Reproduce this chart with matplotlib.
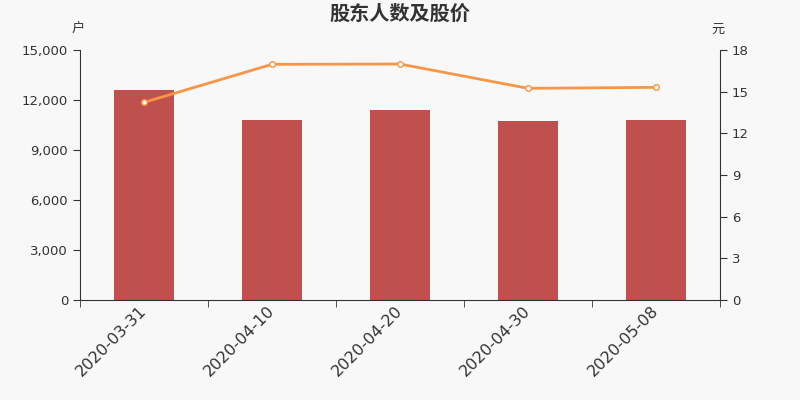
import numpy as np
import matplotlib.pyplot as plt
from matplotlib.ticker import FuncFormatter, FixedLocator

plt.rcParams['font.family'] = ['DejaVu Sans', 'Noto Sans CJK SC']

fechas = ['2020-03-31', '2020-04-10', '2020-04-20', '2020-04-30', '2020-05-08']
accionistas = [12600, 10800, 11400, 10720, 10800]
precio = [14.23, 16.97, 16.99, 15.24, 15.31]

color_barra = '#c0504d'
color_linea = '#f79646'
color_texto = '#333333'
fondo = '#f8f8f8'

fig = plt.figure(figsize=(8, 4), dpi=100, facecolor=fondo)
ax = fig.add_axes([0.1, 0.25, 0.8, 0.625])
ax.set_facecolor(fondo)
ax2 = ax.twinx()

x = np.arange(len(fechas))
ax.bar(x, accionistas, width=0.47, color=color_barra, zorder=2)
ax2.plot(x, precio, color=color_linea, linewidth=2, marker='o', markersize=4,
         markerfacecolor='white', markeredgecolor=color_linea, markeredgewidth=1, zorder=3)

ax.set_xlim(-0.5, len(fechas) - 0.5)
ax.set_ylim(0, 15000)
ax2.set_ylim(0, 18)
ax.set_yticks(np.arange(0, 15001, 3000))
ax2.set_yticks(np.arange(0, 19, 3))
ax.yaxis.set_major_formatter(FuncFormatter(lambda v, p: f'{int(v):,}'))

ax.set_xticks(x)
ax.set_xticklabels(fechas, rotation=45, ha='right', va='center', rotation_mode='anchor',
                   fontsize=11.5, color=color_texto)
ax.tick_params(axis='x', which='major', length=0, pad=6)
ax.xaxis.set_minor_locator(FixedLocator(np.arange(-0.5, len(fechas), 1)))
ax.tick_params(axis='x', which='minor', length=5, color=color_texto)

ax.tick_params(axis='y', labelsize=9.5, colors=color_texto, length=5)
ax2.tick_params(axis='y', labelsize=9.5, colors=color_texto, length=5)

for a in (ax, ax2):
    a.spines['top'].set_visible(False)
    for s in ('left', 'right', 'bottom'):
        a.spines[s].set_color(color_texto)
ax.spines['right'].set_visible(False)
ax2.spines['left'].set_visible(False)
ax2.spines['bottom'].set_visible(False)

fig.text(0.5, 0.965, '股东人数及股价', ha='center', va='center',
         fontsize=14.5, fontweight='bold', color=color_texto)
fig.text(0.098, 0.928, '户', ha='center', va='center', fontsize=9.5, color=color_texto)
fig.text(0.898, 0.928, '元', ha='center', va='center', fontsize=9.5, color=color_texto)

fig.savefig('out.png', dpi=100, facecolor=fondo)
